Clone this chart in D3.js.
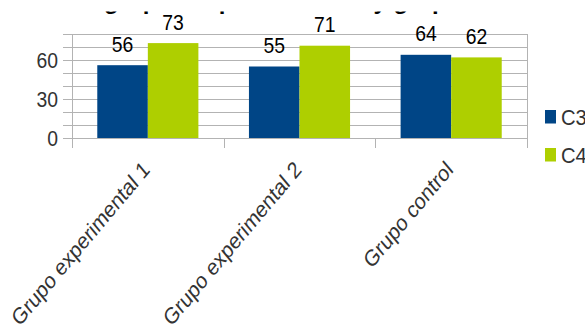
<!DOCTYPE html>
<html><head><meta charset="utf-8">
<script src="https://cdn.jsdelivr.net/npm/d3@7"></script>
<style>
html,body{margin:0;padding:0;background:#fff;}
svg{display:block;font-family:"Liberation Sans",Arial,sans-serif;}
</style></head>
<body><svg id="c" width="585" height="332"></svg>
<script>
const categories = ["Grupo experimental 1", "Grupo experimental 2", "Grupo control"];
const seriesNames = ["C3", "C4"];
const valuesC3 = [56, 55, 64];
const valuesC4 = [73, 71, 62];
const yTickLabels = [0, 30, 60];
const titleText = "Resultados de los grupos experimentales y grupo control";

const colors = {C3: "#004586", C4: "#aecf00"};
const seriesValues = {C3: valuesC3, C4: valuesC4};
const SX = 0.9;   // horizontal squeeze of the upright text seen in the reference
const SXR = 0.84; // squeeze of the rotated category labels

const svg = d3.select("#c");
const L = 72, R = 527, T = 34, B = 138;

const x = d3.scaleBand().domain(categories).range([L, R]).paddingInner(0).paddingOuter(0);
const xs = d3.scaleBand().domain(seriesNames).range([0, x.bandwidth()]).paddingInner(0).paddingOuter(0.5);
const y = d3.scaleLinear().domain([0, 80]).range([B, T]);

// title (only its lower part is visible in the reference)
const clip = svg.append("defs").append("clipPath").attr("id", "tclip");
clip.append("rect").attr("x", 0).attr("y", 11.5).attr("width", 585).attr("height", 10);
const title = svg.append("text").attr("clip-path", "url(#tclip)")
  .attr("x", 0).attr("y", 9).attr("font-size", 24).attr("font-weight", "bold")
  .attr("fill", "#000").text(titleText);
const gi = titleText.indexOf("grupos");
const gpos = title.node().getStartPositionOfChar(gi).x;
title.attr("x", 104 - gpos);

// gridlines
const grid = d3.range(0, 81, 10);
svg.append("g").selectAll("line").data(grid).join("line")
  .attr("x1", L - 9).attr("x2", R)
  .attr("y1", d => Math.round(y(d)) + 0.5).attr("y2", d => Math.round(y(d)) + 0.5)
  .attr("stroke", "#b3b3b3").attr("stroke-width", 1);

// bars
const data = [];
categories.forEach((c, i) => seriesNames.forEach(s => data.push({c, s, v: seriesValues[s][i]})));
svg.append("g").selectAll("rect").data(data).join("rect")
  .attr("x", d => x(d.c) + xs(d.s))
  .attr("y", d => y(d.v))
  .attr("width", xs.bandwidth())
  .attr("height", d => y(0) - y(d.v))
  .attr("fill", d => colors[d.s]);

// value labels
svg.append("g").selectAll("text").data(data).join("text")
  .attr("transform", d => `translate(${x(d.c) + xs(d.s) + xs.bandwidth() / 2},${y(d.v) - 13.5}) scale(${SX},1)`)
  .attr("text-anchor", "middle").attr("font-size", 21.5).attr("fill", "#000")
  .text(d => d.v);

// axes lines
const ax = svg.append("g").attr("stroke", "#b3b3b3").attr("stroke-width", 1);
ax.append("line").attr("x1", L - 9).attr("x2", R).attr("y1", Math.round(y(0)) + 0.5).attr("y2", Math.round(y(0)) + 0.5);
const sepX = [L].concat(categories.map(c => x(c) + x.bandwidth()));
ax.selectAll("line.sep").data(sepX).join("line").attr("class", "sep")
  .attr("x1", d => Math.round(d) + 0.5).attr("x2", d => Math.round(d) + 0.5)
  .attr("y1", (d, i) => (i === 0 || i === sepX.length - 1) ? T : B)
  .attr("y2", B + 10);

// y tick labels
svg.append("g").selectAll("text").data(yTickLabels).join("text")
  .attr("transform", d => `translate(58,${y(d)}) scale(${SX},1)`).attr("dy", "0.36em")
  .attr("text-anchor", "end").attr("font-size", 21.5).attr("fill", "#333")
  .text(d => d);

// x labels rotated
svg.append("g").selectAll("text").data(categories).join("text")
  .attr("text-anchor", "end").attr("font-size", 23).attr("fill", "#333")
  .attr("transform", c => `translate(${x(c) + x.bandwidth() / 2 + 3},171) scale(${SXR},1) rotate(-45)`)
  .text(c => c);

// legend
const lg = svg.append("g").selectAll("g").data(seriesNames).join("g")
  .attr("transform", (d, i) => `translate(545,${110 + i * 38})`);
lg.append("rect").attr("width", 11).attr("height", 13.5).attr("fill", d => colors[d]);
lg.append("text").attr("transform", `translate(16,7) scale(${SX},1)`).attr("dy", "0.36em")
  .attr("font-size", 22.5).attr("fill", "#333").text(d => d);
</script></body></html>
